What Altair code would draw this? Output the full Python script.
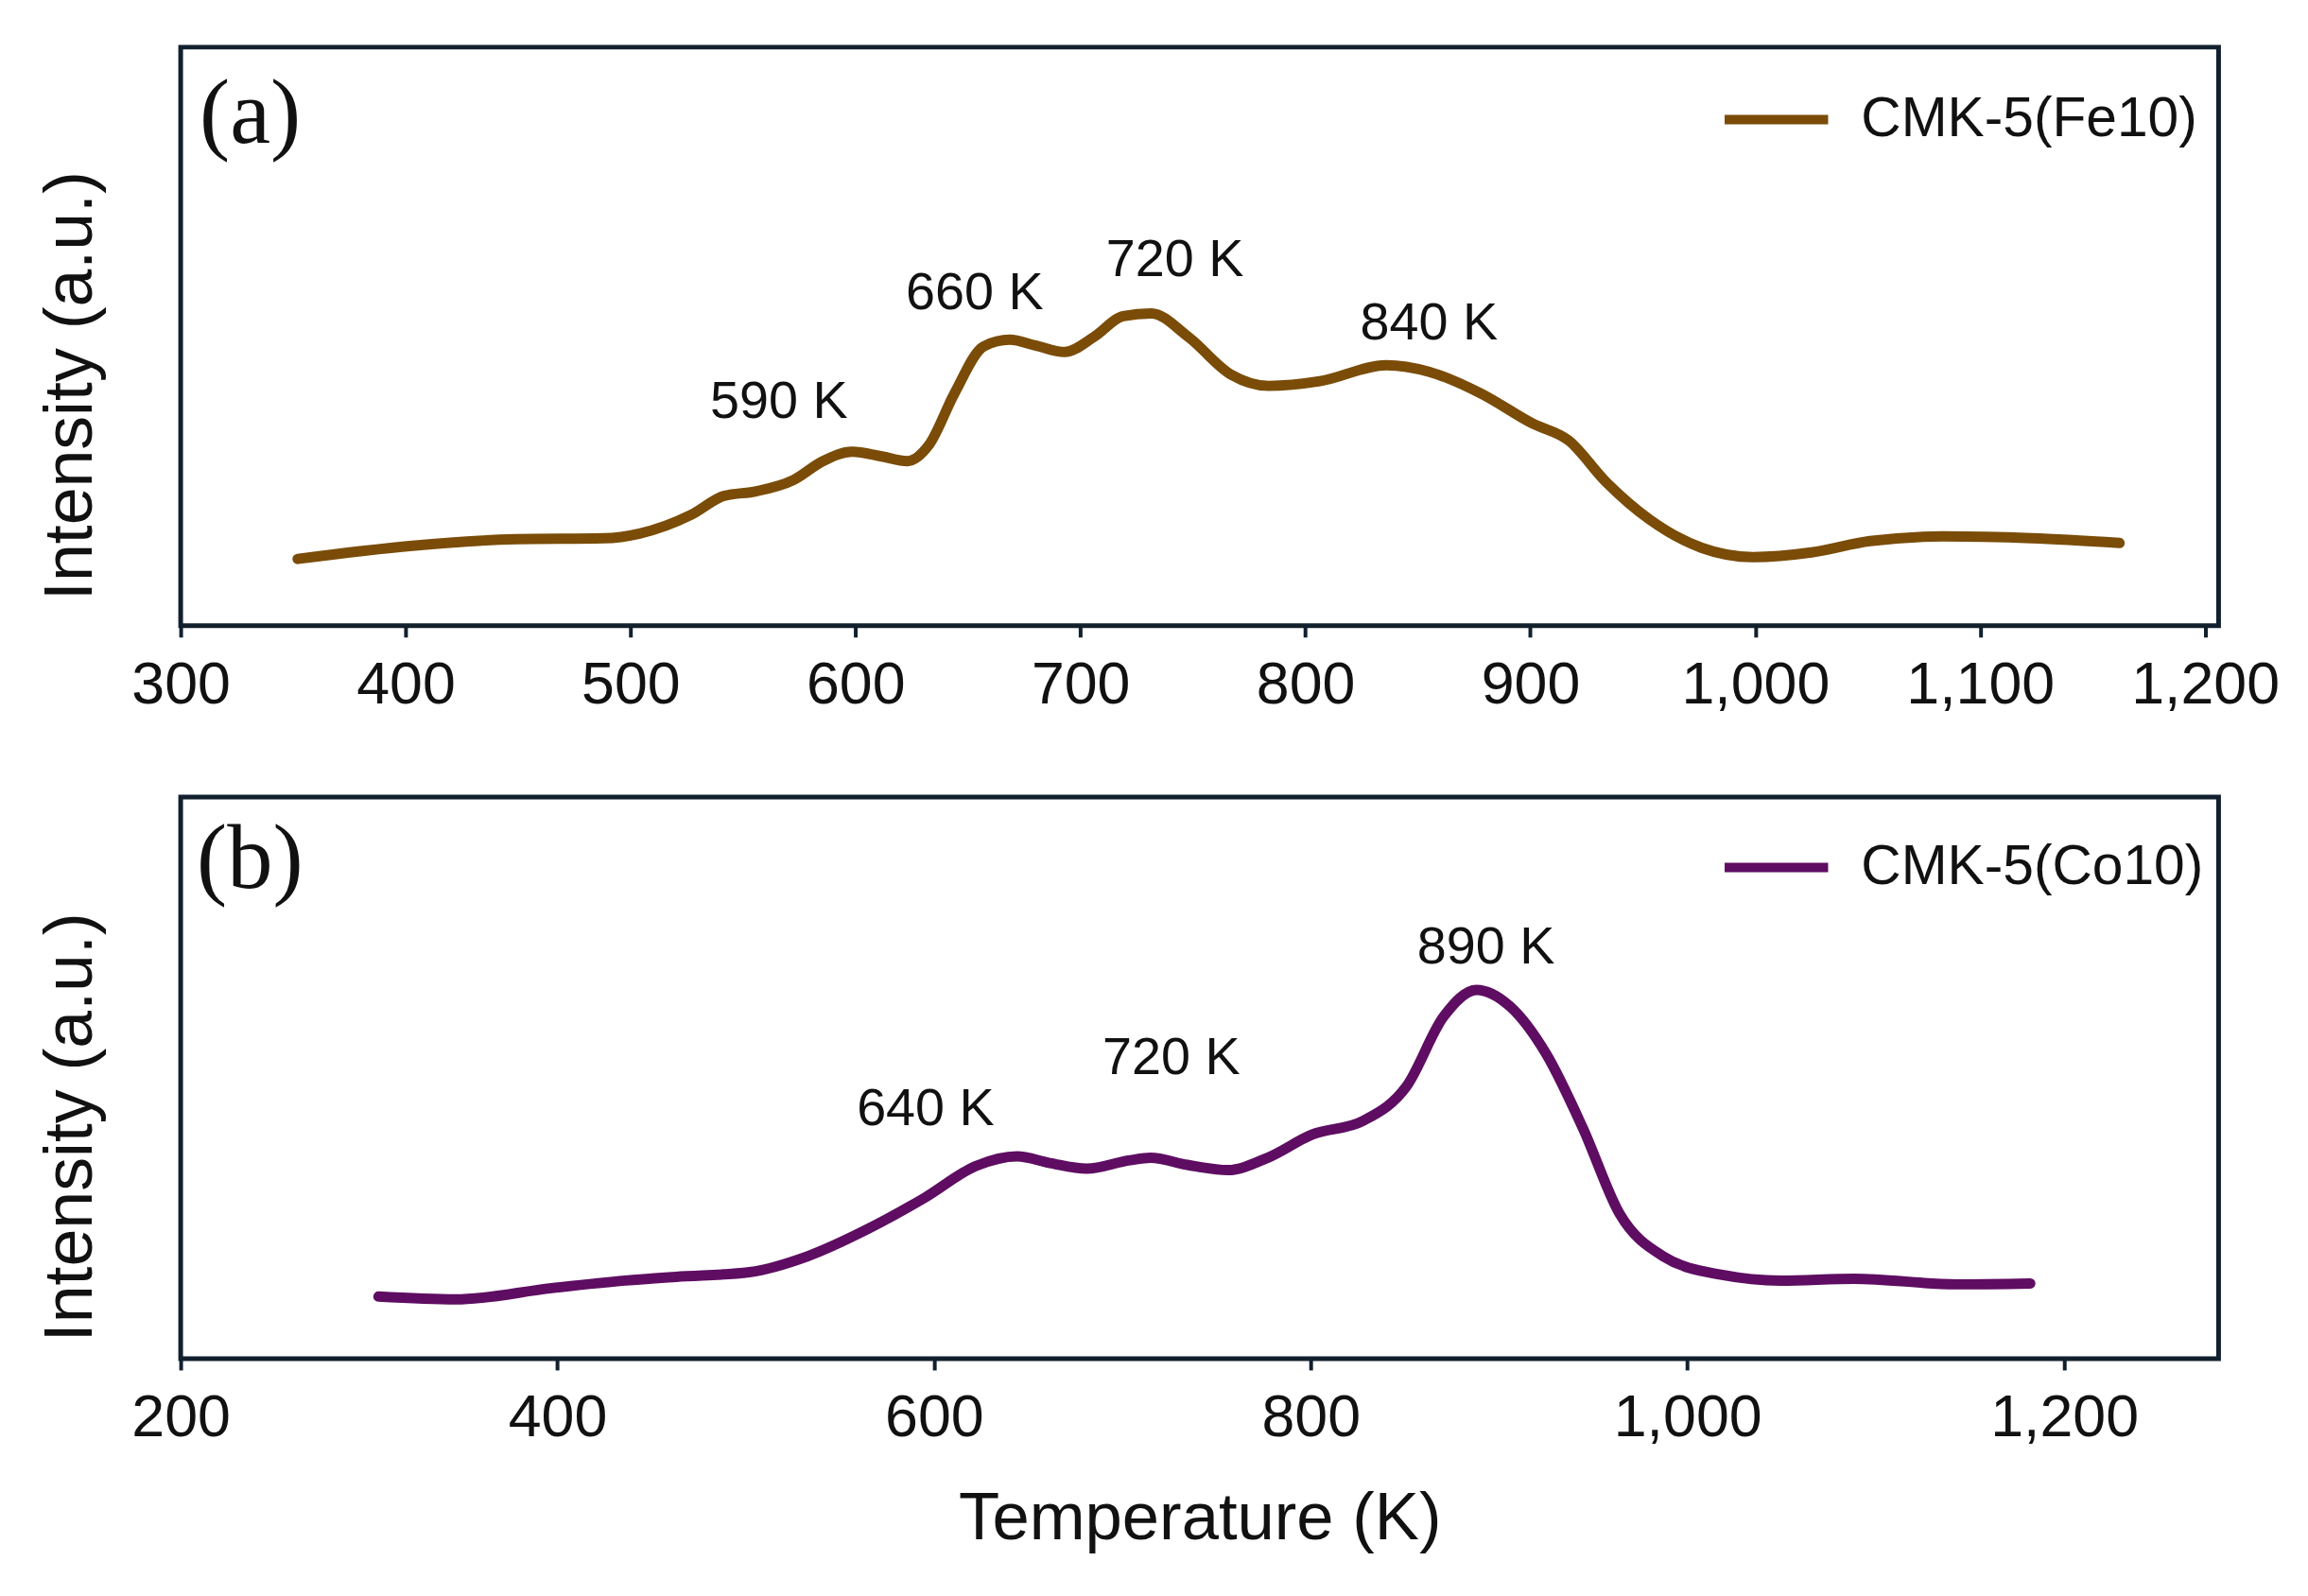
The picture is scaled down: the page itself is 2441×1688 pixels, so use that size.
import altair as alt
import pandas as pd

# ---- data ----
fe_T = [352, 403, 449, 488, 504, 527, 541.5, 556, 572.5, 585.5, 598.5, 611.7, 623, 632.6, 644, 657, 668.6, 680, 693, 706, 719, 731.5, 748, 767, 783.7, 806.5, 836, 855, 878, 901, 917, 933.6, 953, 976, 999, 1025, 1051, 1083.5, 1123, 1162]
fe_I = [71, 85, 92, 93, 98, 118, 138, 143, 155, 175, 185, 180, 175, 192, 247, 297, 304, 298, 291, 307, 329, 332, 307, 267, 255, 260, 277, 270, 247, 215, 197, 153, 113, 83, 73, 78, 90, 95, 93, 88]

co_T = [305, 346, 397, 436, 463, 502, 533, 564, 595, 622.5, 644, 661.5, 681, 704, 715, 734.5, 756, 777, 800.5, 828, 851, 870.5, 888, 905.5, 925, 944.5, 964, 987, 1018.5, 1049.5, 1088.5, 1143, 1182]
co_I = [66, 63, 75, 83, 87, 92, 109, 137, 171, 205, 215, 208, 202, 211, 213.5, 206, 200.5, 213.5, 238, 253, 290, 363.5, 392, 375, 324, 245, 154, 109, 89, 83, 85, 79, 80]

fe_peak_labels = ["590 K", "660 K", "720 K", "840 K"]
fe_peak_T = [566, 653, 742, 855]
fe_peak_I = [238, 354, 389, 321]

co_peak_labels = ["640 K", "720 K", "890 K"]
co_peak_T = [595.5, 726, 893]
co_peak_I = [265.5, 320, 437]

panel_labels = ["(a)", "(b)"]
panel_label_T = [308.4, 208.5]
panel_label_I = [542, 529]

series_names = ["CMK-5(Fe10)", "CMK-5(Co10)"]
series_colors = ["#7a4c08", "#5e0d62"]

x_ticks_a = [300, 400, 500, 600, 700, 800, 900, 1000, 1100, 1200]
x_ticks_b = [200, 400, 600, 800, 1000, 1200]
x_domain_a = [300, 1206]
x_domain_b = [200, 1282]
y_domain_a = [0, 615]
y_domain_b = [0, 597]

FONT = "Liberation Sans, Arial, Helvetica, sans-serif"
W = 2166


def panel(T, I, name, color, xdom, ydom, ticks, peaks, plabel, h, show_title, legend_y):
    df = pd.DataFrame({"T": T, "I": I, "series": name})
    pk = pd.DataFrame({"T": peaks[1], "I": peaks[2], "label": peaks[0]})
    pl = pd.DataFrame({"T": [plabel[1]], "I": [plabel[2]], "label": [plabel[0]]})

    x = alt.X(
        "T:Q",
        scale=alt.Scale(domain=xdom, nice=False, zero=False),
        axis=alt.Axis(
            values=ticks,
            format=",d",
            title="Temperature (K)" if show_title else None,
            grid=False,
            domain=False,
            tickSize=12,
            tickWidth=4,
            tickColor="#12202e",
            labelFontSize=63,
            labelColor="#111111",
            labelFont=FONT,
            labelPadding=20,
            labelFlush=False,
            labelOverlap=False,
            titleFontSize=71,
            titleFont=FONT,
            titleFontWeight="normal",
            titleColor="#111111",
            titlePadding=40,
        ),
    )
    y = alt.Y(
        "I:Q",
        scale=alt.Scale(domain=ydom, nice=False, zero=False),
        axis=alt.Axis(
            title="Intensity (a.u.)",
            labels=False,
            ticks=False,
            domain=False,
            grid=False,
            titleFontSize=72,
            titleFont=FONT,
            titleFontWeight="normal",
            titleColor="#111111",
            titlePadding=80,
            titleY=h / 2 + 52,
        ),
    )

    line = alt.Chart(df).mark_line(
        strokeWidth=11, interpolate="monotone", strokeCap="round", strokeJoin="round"
    ).encode(
        x=x,
        y=y,
        color=alt.Color(
            "series:N",
            scale=alt.Scale(domain=[name], range=[color]),
            legend=alt.Legend(
                title=None,
                orient="none",
                legendX=1636,
                legendY=legend_y,
                symbolType="stroke",
                symbolSize=12100,
                symbolStrokeWidth=10,
                labelFontSize=59,
                labelFont=FONT,
                labelColor="#111111",
                labelOffset=30,
                labelLimit=0,
                padding=0,
            ),
        ),
    )
    txt = alt.Chart(pk).mark_text(
        fontSize=56, font=FONT, color="#111111", baseline="middle", align="center"
    ).encode(x="T:Q", y="I:Q", text="label:N")
    lab = alt.Chart(pl).mark_text(
        fontSize=97, font="Liberation Serif, Times New Roman, serif", color="#111111",
        baseline="middle", align="left"
    ).encode(x="T:Q", y="I:Q", text="label:N")
    return alt.layer(line, txt, lab).properties(width=W, height=h)


pa = panel(fe_T, fe_I, series_names[0], series_colors[0], x_domain_a, y_domain_a,
           x_ticks_a, (fe_peak_labels, fe_peak_T, fe_peak_I),
           (panel_labels[0], panel_label_T[0], panel_label_I[0]), 615, False, 17)
pb = panel(co_T, co_I, series_names[1], series_colors[1], x_domain_b, y_domain_b,
           x_ticks_b, (co_peak_labels, co_peak_T, co_peak_I),
           (panel_labels[1], panel_label_T[1], panel_label_I[1]), 597, True, 15)

chart = alt.vconcat(pa, pb, spacing=81).resolve_scale(color="independent").properties(
    padding={"left": 28, "top": 35, "right": 20, "bottom": 10},
    background="white",
).configure_view(
    stroke="#12202e", strokeWidth=5
).configure_concat(spacing=81)

chart.save("out.html", embed_options={"renderer": "svg", "actions": False})
